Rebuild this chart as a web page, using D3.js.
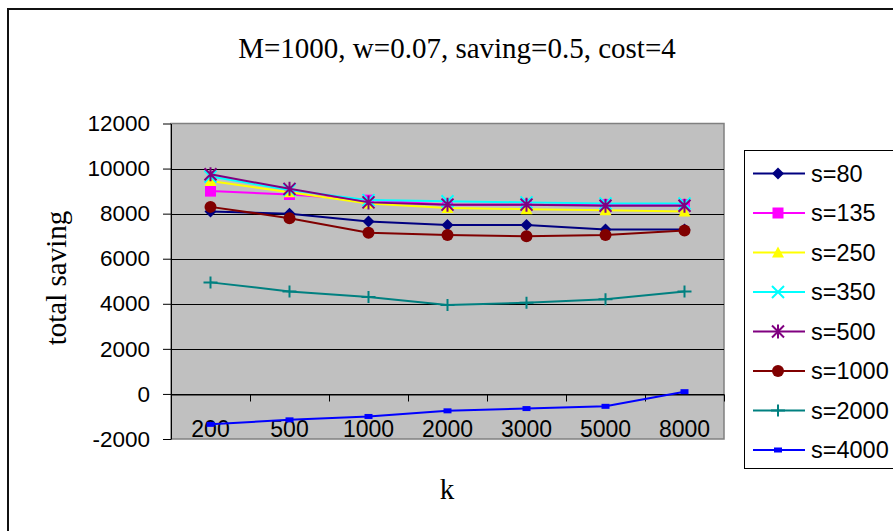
<!DOCTYPE html>
<html>
<head>
<meta charset="utf-8">
<script src="https://cdn.jsdelivr.net/npm/d3@7"></script>
<style>
  body { margin: 0; background: #fff; }
  svg { display: block; }
</style>
</head>
<body>
<div id="chart"></div>
<script>
const categories = ['200', '500', '1000', '2000', '3000', '5000', '8000']
const seriesNames = ['s=80', 's=135', 's=250', 's=350', 's=500', 's=1000', 's=2000', 's=4000']
const s80 = [8100, 8000, 7650, 7500, 7500, 7300, 7300]
const s135 = [9000, 8850, 8600, 8400, 8400, 8400, 8400]
const s250 = [9450, 8950, 8450, 8250, 8200, 8150, 8100]
const s350 = [9650, 9050, 8600, 8550, 8500, 8450, 8450]
const s500 = [9750, 9100, 8500, 8400, 8400, 8350, 8350]
const s1000 = [8300, 7800, 7150, 7050, 7000, 7050, 7250]
const s2000 = [4950, 4550, 4300, 3950, 4050, 4200, 4550]
const s4000 = [-1350, -1150, -1000, -750, -650, -550, 100]
const yTicks = [-2000, 0, 2000, 4000, 6000, 8000, 10000, 12000]

const seriesValues = [s80, s135, s250, s350, s500, s1000, s2000, s4000]
const colors = ['#000080', '#ff00ff', '#ffff00', '#00ffff', '#800080', '#800000', '#008080', '#0000ff']
const shapes = ['diamond', 'square', 'triangle', 'cross', 'star', 'circle', 'plus', 'smallsquare']

const width = 893, height = 531
const sans = 'Liberation Sans, Arial, sans-serif'
const serif = 'Liberation Serif, Times New Roman, serif'

const svg = d3.select('#chart').append('svg')
  .attr('width', width)
  .attr('height', height)

svg.append('rect')
  .attr('x', 8).attr('y', 9)
  .attr('width', 920).attr('height', 560)
  .attr('fill', 'none')
  .attr('stroke', '#111')
  .attr('stroke-width', 2)

const x = d3.scaleBand()
  .domain(categories)
  .range([171, 724])

const y = d3.scaleLinear()
  .domain([-2000, 12000])
  .range([439, 123.5])

// plot area
svg.append('rect')
  .attr('x', x.range()[0])
  .attr('y', y(12000))
  .attr('width', x.range()[1] - x.range()[0])
  .attr('height', y(-2000) - y(12000))
  .attr('fill', '#c0c0c0')
  .attr('stroke', '#808080')
  .attr('stroke-width', 1.5)

svg.append('g')
  .selectAll('line')
  .data(yTicks.filter(t => t > -2000 && t < 12000))
  .join('line')
  .attr('x1', x.range()[0])
  .attr('x2', x.range()[1])
  .attr('y1', d => Math.round(y(d)) + 0.5)
  .attr('y2', d => Math.round(y(d)) + 0.5)
  .attr('stroke', '#000')

const yAxis = d3.axisLeft(y)
  .tickValues(yTicks)
  .tickSize(8)
  .tickSizeOuter(0)
  .tickPadding(13)
  .tickFormat(d => String(d))

svg.append('g')
  .attr('transform', `translate(${x.range()[0]},0)`)
  .call(yAxis)
  .call(g => g.selectAll('text')
    .attr('font-family', sans)
    .attr('font-size', 22.5)
    .attr('fill', '#000'))
  .call(g => g.selectAll('line, path').attr('stroke', '#000'))

const xAxis = d3.axisBottom(x)
  .tickSize(0)
  .tickSizeOuter(0)
  .tickPadding(26)

const y0 = Math.round(y(0)) + 0.5

svg.append('g')
  .attr('transform', `translate(0,${y0})`)
  .call(xAxis)
  .call(g => g.selectAll('text')
    .attr('font-family', sans)
    .attr('font-size', 23)
    .attr('fill', '#000'))
  .call(g => g.selectAll('path').attr('stroke', '#000'))

// tick marks between categories
svg.append('g')
  .selectAll('line')
  .data(categories.slice(1).map(c => x(c)).concat([x.range()[1]]))
  .join('line')
  .attr('x1', d => Math.round(d) + 0.5)
  .attr('x2', d => Math.round(d) + 0.5)
  .attr('y1', y0)
  .attr('y2', y0 + 7)
  .attr('stroke', '#000')

const data = seriesNames.map((name, i) => ({
  name,
  color: colors[i],
  shape: shapes[i],
  values: categories.map((k, j) => ({ k, v: seriesValues[i][j] }))
}))

const cx = k => x(k) + x.bandwidth() / 2

const line = d3.line()
  .x(d => cx(d.k))
  .y(d => y(d.v))

const drawMarker = (g, shape, color) => {
  if (shape === 'diamond') {
    g.append('path').attr('d', 'M0,-6L6,0L0,6L-6,0Z').attr('fill', color)
  } else if (shape === 'square') {
    g.append('rect').attr('x', -5.5).attr('y', -5.5).attr('width', 11).attr('height', 11).attr('fill', color)
  } else if (shape === 'triangle') {
    g.append('path').attr('d', 'M0,-6L6,5L-6,5Z').attr('fill', color)
  } else if (shape === 'cross') {
    g.append('path').attr('d', 'M-6,-6L6,6M-6,6L6,-6').attr('stroke', color).attr('stroke-width', 2)
  } else if (shape === 'star') {
    g.append('path').attr('d', 'M-6,-6L6,6M-6,6L6,-6M0,-7L0,7').attr('stroke', color).attr('stroke-width', 2)
  } else if (shape === 'circle') {
    g.append('circle').attr('r', 6).attr('fill', color)
  } else if (shape === 'plus') {
    g.append('path').attr('d', 'M-7,0L7,0M0,-6L0,6').attr('stroke', color).attr('stroke-width', 2)
  } else if (shape === 'smallsquare') {
    g.append('rect').attr('x', -4).attr('y', -2.5).attr('width', 8).attr('height', 5).attr('fill', color)
  }
}

const series = svg.append('g')
  .selectAll('g')
  .data(data)
  .join('g')

series.append('path')
  .attr('d', d => line(d.values))
  .attr('fill', 'none')
  .attr('stroke', d => d.color)
  .attr('stroke-width', 2)

series.each(function(d) {
  d3.select(this).selectAll('g.mark')
    .data(d.values)
    .join('g')
    .attr('class', 'mark')
    .attr('transform', p => `translate(${cx(p.k)},${y(p.v)})`)
    .each(function() { drawMarker(d3.select(this), d.shape, d.color) })
})

// legend
const legend = svg.append('g')

legend.append('rect')
  .attr('x', 744.5).attr('y', 150.5)
  .attr('width', 170).attr('height', 318)
  .attr('fill', '#fff')
  .attr('stroke', '#000')

const items = legend.selectAll('g.item')
  .data(data)
  .join('g')
  .attr('class', 'item')
  .attr('transform', (d, i) => `translate(0,${173.5 + i * 39.5})`)

items.append('line')
  .attr('x1', 753).attr('x2', 805)
  .attr('stroke', d => d.color)
  .attr('stroke-width', 2)

items.append('g')
  .attr('transform', 'translate(778,0)')
  .each(function(d) { drawMarker(d3.select(this), d.shape, d.color) })

items.append('text')
  .attr('x', 811)
  .attr('dy', '0.36em')
  .attr('font-family', sans)
  .attr('font-size', 23.5)
  .text(d => d.name)

svg.append('text')
  .attr('x', 457).attr('y', 58)
  .attr('text-anchor', 'middle')
  .attr('font-family', serif)
  .attr('font-size', 29)
  .text('M=1000, w=0.07, saving=0.5, cost=4')

svg.append('text')
  .attr('transform', 'translate(66,278) rotate(-90)')
  .attr('text-anchor', 'middle')
  .attr('font-family', serif)
  .attr('font-size', 29)
  .text('total saving')

svg.append('text')
  .attr('x', 447).attr('y', 499)
  .attr('text-anchor', 'middle')
  .attr('font-family', serif)
  .attr('font-size', 29)
  .text('k')
</script>
</body>
</html>
